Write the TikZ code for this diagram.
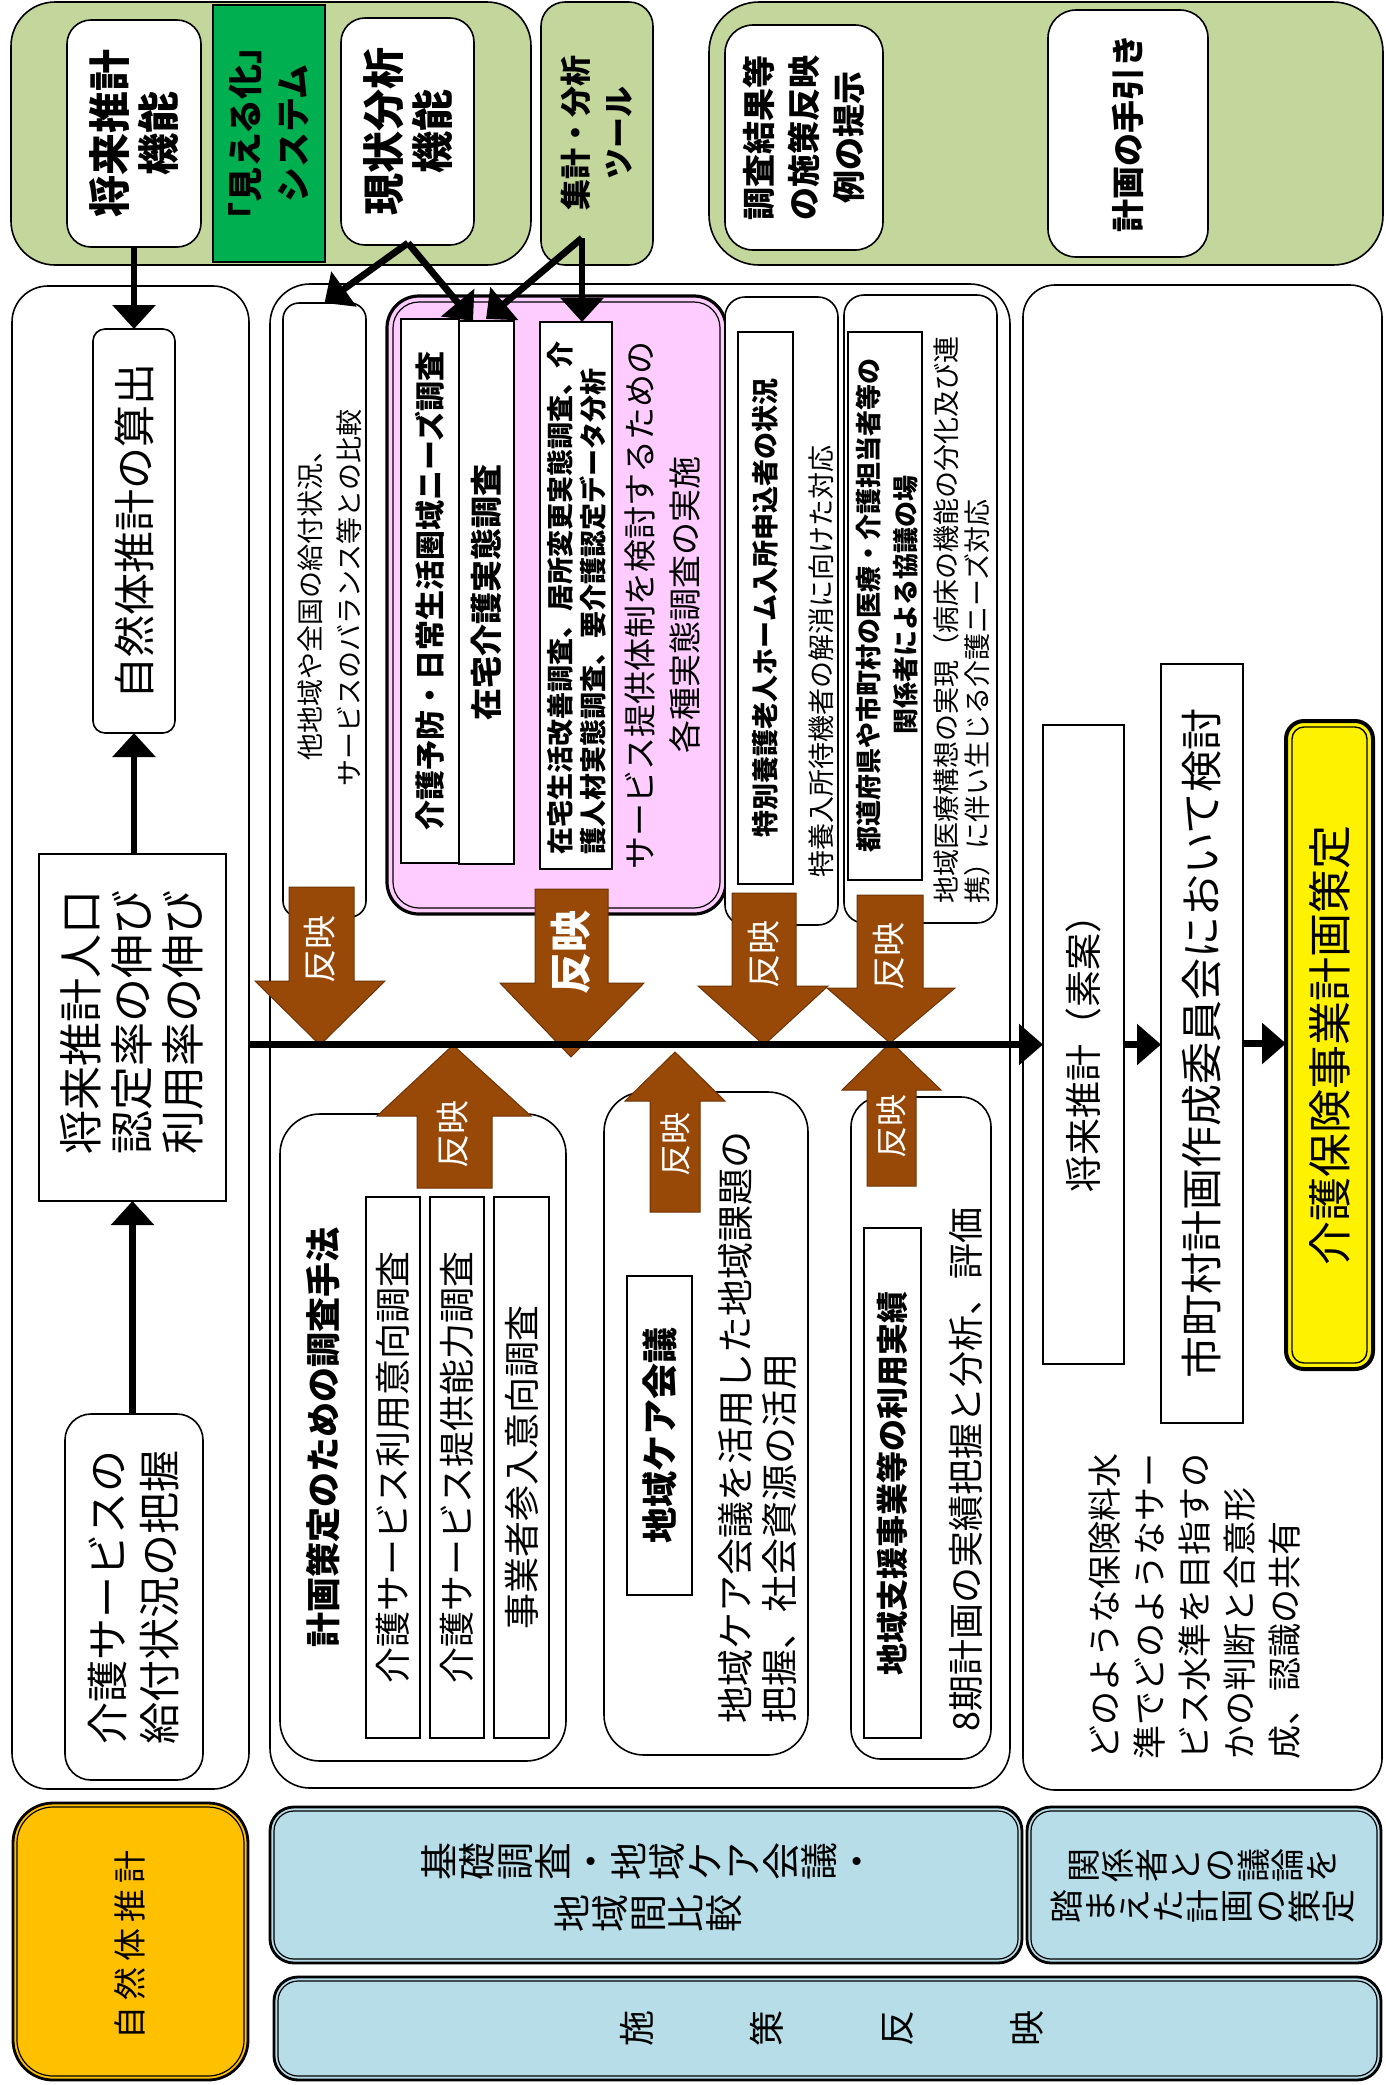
\documentclass[tikz,border=0pt]{standalone}
\usepackage{fontspec}
\setmainfont{Noto Sans CJK JP}
\usepackage{graphicx}
\usetikzlibrary{arrows.meta,calc}
\definecolor{lgreen}{HTML}{C3D69B}
\definecolor{dgreen}{HTML}{00B050}
\definecolor{pinkf}{HTML}{FFCCFF}
\definecolor{lblue}{HTML}{B7DEE8}
\definecolor{orangef}{HTML}{FFC000}
\definecolor{brownf}{HTML}{984807}
\definecolor{brownd}{HTML}{6E3305}
\newcommand\Fs[2]{\fontsize{#1pt}{#2pt}\selectfont}
\newcommand\Bx[6][]{\node[#1, inner sep=0pt, outer sep=0pt, minimum width={(#5-#3)*0.5pt}, minimum height={(#6-#4)*0.5pt}] (#2) at ({(#3+#5)/2},{(#4+#6)/2}) {};}
\newcommand\Inner[3]{\draw[#3] ($(#1.south west)+(#2,-#2)$) rectangle ($(#1.north east)+(-#2,#2)$);}
\makeatletter
\newcommand\tate[1]{\tate@loop#1\relax}
\def\tate@loop#1{\ifx\relax#1\else\rotatebox[origin=c]{90}{\makebox[1em]{\rule[-0.12em]{0pt}{1em}#1}}\expandafter\tate@loop\fi}
\makeatother
\begin{document}
\begin{tikzpicture}[x=0.5pt,y=-0.5pt,
  bx/.style={draw=black, line width=0.8pt, fill=white},
  tx/.style={rotate=90, inner sep=0pt, align=center, text=black},
  arr/.style={line width=3.4pt, -{Triangle[width=21pt,length=12pt]}},
  marr/.style={line width=3.5pt, -{Triangle[width=20pt,length=12pt]}},
  refl/.style={fill=brownf, draw=brownd, line width=0.5pt},
  rtx/.style={tx, text=white, font=\Fs{17}{18}}]
\useasboundingbox (0,0) rectangle (1386,2085);
% ---------- top row ----------
\Bx[bx, fill=lgreen, rounded corners=22pt]{A}{11}{2}{531}{265}
\Bx[bx, rounded corners=12pt]{shorai}{67}{20}{201}{247}
\Bx[bx, fill=dgreen, line width=0.6pt]{mieru}{213}{5}{325}{262}
\Bx[bx, rounded corners=12pt]{genjo}{341}{18}{474}{245}
\Bx[bx, fill=lgreen, rounded corners=12pt]{shukei}{541}{2}{653}{265}
\Bx[bx, fill=lgreen, rounded corners=25pt]{Bg}{709}{2}{1383}{265}
\Bx[bx, rounded corners=14pt]{chosa}{725}{25}{883}{250}
\Bx[bx, rounded corners=14pt]{tebiki}{1048}{10}{1208}{257}
\node[tx, font=\Fs{21}{24.5}\bfseries] (shorai-t) at (shorai) {将来推計\\機能};
\node[tx, font=\Fs{17.5}{24}\bfseries] (mieru-t) at (mieru) {「見える化」\\システム};
\node[tx, font=\Fs{21}{24.5}\bfseries] (genjo-t) at (genjo) {現状分析\\機能};
\node[tx, font=\Fs{15.5}{21.5}\bfseries] (shukei-t) at (597,133) {集計・分析\\ツール};
\node[tx, font=\Fs{16.5}{22.5}\bfseries] (chosa-t) at (chosa) {調査結果等\\の施策反映\\例の提示};
\node[tx, font=\Fs{16.5}{20}\bfseries] (tebiki-t) at (tebiki) {計画の手引き};
% ---------- containers ----------
\Bx[bx, rounded corners=18pt]{L}{12}{286}{249}{1789}
\Bx[bx, rounded corners=20pt]{M}{270}{284}{1010}{1788}
\Bx[bx, rounded corners=16pt]{R}{1023}{285}{1382}{1790}
% ---------- left ----------
\Bx[bx, rounded corners=6pt]{shizen}{93}{329}{175}{733}
\Bx[bx]{jinko}{39}{854}{226}{1201}
\Bx[bx, rounded corners=13pt]{kyufu}{65}{1414}{203}{1780}
\node[tx, font=\Fs{21}{25}] (shizen-t) at (shizen) {自然体推計の算出};
\node[tx, align=left, font=\Fs{22}{25.5}] (jinko-t) at (132,1022) {将来推計人口\\認定率の伸び\\利用率の伸び};
\node[tx, align=left, font=\Fs{21}{26}] (kyufu-t) at (kyufu) {介護サービスの\\給付状況の把握};
% ---------- middle upper ----------
\Bx[bx, rounded corners=8pt]{tachi}{283}{303}{366}{917}
\node[tx, font=\Fs{13.5}{19.5}] (tachi-t) at (330,598) {他地域や全国の給付状況、\\サービスのバランス等との比較};
\Bx[draw=black, line width=1.6pt, fill=pinkf, rounded corners=16pt]{pink}{387}{296}{726}{914}
\Inner{pink}{6}{line width=0.6pt, rounded corners=13pt}
\Bx[bx, line width=1pt]{yobo}{401}{319}{459}{863}
\Bx[bx, line width=1pt]{zaitaku}{459}{321}{514}{864}
\Bx[bx, line width=1pt]{zseik}{540}{322}{612}{869}
\node[tx, font=\Fs{15}{18}\bfseries] (yobo-t) at (yobo) {介護予防・日常生活圏域ニーズ調査};
\node[tx, font=\Fs{16}{18}\bfseries] (zaitaku-t) at (zaitaku) {在宅介護実態調査};
\node[tx, align=left, font=\Fs{13.5}{16.5}\bfseries] (zseik-t) at (577,598) {在宅生活改善調査、居所変更実態調査、介\\護人材実態調査、要介護認定データ分析};
\node[tx, font=\Fs{16.5}{22.5}] (pink-t) at (663,605) {サービス提供体制を検討するための\\各種実態調査の実施};
\Bx[bx, rounded corners=10pt]{tokuyo}{725}{297}{838}{925}
\Bx[bx, line width=1pt]{tokuyoin}{738}{332}{793}{884}
\node[tx, font=\Fs{13.5}{16}\bfseries] (tokuyoin-t) at (tokuyoin) {特別養護老人ホーム入所申込者の状況};
\node[tx, anchor=west, font=\Fs{13.5}{16}] (tokuyo-t) at (821,878) {特養入所待機者の解消に向けた対応};
\Bx[bx, rounded corners=10pt]{todo}{844}{295}{997}{923}
\Bx[bx, line width=1pt]{todoin}{848}{332}{922}{880}
\node[tx, font=\Fs{13}{18.5}\bfseries] (todoin-t) at (887,605) {都道府県や市町村の医療・介護担当者等の\\関係者による協議の場};
\node[tx, anchor=west, align=left, font=\Fs{13.5}{15.5}] (todo-t) at (962,904) {地域医療構想の実現（病床の機能の分化及び連\\携）に伴い生じる介護ニーズ対応};
% ---------- middle lower ----------
\Bx[bx, rounded corners=20pt]{keik}{280}{1114}{566}{1761}
\node[tx, font=\Fs{17.5}{20}\bfseries] (keik-t) at (323,1437) {計画策定のための調査手法};
\Bx[bx, line width=1pt]{ra}{366}{1197}{420}{1738}
\Bx[bx, line width=1pt]{rb}{430}{1197}{484}{1738}
\Bx[bx, line width=1pt]{rc}{494}{1197}{549}{1738}
\node[tx, font=\Fs{18}{20}] (ra-t) at (ra) {介護サービス利用意向調査};
\node[tx, font=\Fs{18}{20}] (rb-t) at (rb) {介護サービス提供能力調査};
\node[tx, font=\Fs{18}{20}] (rc-t) at (rc) {事業者参入意向調査};
\Bx[bx, rounded corners=20pt]{chiiki}{604}{1092}{808}{1755}
\Bx[bx, line width=1pt]{chiikiin}{627}{1276}{692}{1595}
\node[tx, font=\Fs{18}{20}\bfseries] (chiikiin-t) at (chiikiin) {地域ケア会議};
\node[tx, anchor=west, align=left, font=\Fs{18.5}{22}] (chiiki-t) at (757,1724) {地域ケア会議を活用した地域課題の\\把握、社会資源の活用};
\Bx[bx, rounded corners=15pt]{shien}{851}{1097}{991}{1759}
\Bx[bx, line width=1pt]{shienin}{864}{1228}{921}{1738}
\node[tx, font=\Fs{16}{18}\bfseries] (shienin-t) at (shienin) {地域支援事業等の利用実績};
\node[tx, anchor=west, font=\Fs{18}{20}] (shien-t) at (966,1732) {8期計画の実績把握と分析、評価};
% ---------- right ----------
\Bx[bx, line width=1.2pt]{soan}{1043}{725}{1124}{1364}
\node[tx, font=\Fs{18.5}{20}] (soan-t) at (soan) {将来推計（素案）};
\Bx[bx, line width=1.2pt]{iinkai}{1161}{664}{1243}{1423}
\node[tx, font=\Fs{21}{23}] (iinkai-t) at (iinkai) {市町村計画作成委員会において検討};
\Bx[draw=black, line width=2pt, fill=yellow, rounded corners=9pt]{sakutei}{1286}{721}{1373}{1369}
\Inner{sakutei}{6}{line width=0.7pt, rounded corners=6pt}
\node[tx, font=\Fs{22}{24}] (sakutei-t) at (sakutei) {介護保険事業計画策定};
\node[tx, anchor=west, align=left, font=\Fs{17}{22.5}] (hoken-t) at (1195,1760) {どのような保険料水\\準でどのようなサー\\ビス水準を目指すの\\かの判断と合意形\\成、認識の共有};
% ---------- bottom ----------
\Bx[draw=black, line width=1.4pt, fill=orangef, rounded corners=20pt]{orange}{13}{1803}{248}{2080}
\Inner{orange}{4}{line width=0.6pt, rounded corners=18pt}
\node[tx, font=\Fs{16.5}{20}] (orange-t) at (130,1945) {自\hspace{3pt}然\hspace{3pt}体\hspace{3pt}推\hspace{3pt}計};
\Bx[draw=black, line width=1.4pt, fill=lblue, rounded corners=12pt]{kiso}{270}{1807}{1022}{1963}
\Inner{kiso}{4}{line width=0.6pt, rounded corners=10pt}
\node[inner sep=0pt, align=center, font=\Fs{19}{26}] (kiso-t) at (648,1887) {\tate{基礎調査・地域ケア会議・}\\\tate{地域間比較}};
\Bx[draw=black, line width=1.4pt, fill=lblue, rounded corners=12pt]{kankei}{1027}{1807}{1381}{1963}
\Inner{kankei}{4}{line width=0.6pt, rounded corners=10pt}
\node[inner sep=0pt, align=center, font=\Fs{17}{20.5}] (kankei-t) at (1203,1886) {\tate{関係者との議論を}\\\tate{踏まえた計画の策定}};
\Bx[draw=black, line width=1.4pt, fill=lblue, rounded corners=12pt]{shisaku}{274}{1977}{1381}{2080}
\Inner{shisaku}{4}{line width=0.6pt, rounded corners=10pt}
\node[inner sep=0pt, font=\Fs{18}{20}] (shisaku-t) at (832,2028) {\tate{施}\hspace{47pt}\tate{策}\hspace{47pt}\tate{反}\hspace{47pt}\tate{映}};
% ---------- brown arrows ----------
\draw[refl] (289,887) -- (354,887) -- (354,981) -- (385,981) -- (320,1045) -- (255,981) -- (289,981) -- cycle;
\node[rtx] (ha1) at (320,949) {反映};
\draw[refl] (535,889) -- (608,889) -- (608,983) -- (644,983) -- (571,1057) -- (500,983) -- (535,983) -- cycle;
\node[rtx, font=\Fs{21}{22}\bfseries] (ha2) at (571,952) {反映};
\draw[refl] (732,893) -- (796,893) -- (796,986) -- (828,986) -- (764,1045) -- (698,986) -- (732,986) -- cycle;
\node[rtx] (ha3) at (764,954) {反映};
\draw[refl] (857,895) -- (923,895) -- (923,988) -- (955,988) -- (890,1043) -- (827,988) -- (857,988) -- cycle;
\node[rtx] (ha4) at (889,956) {反映};
\draw[refl] (417,1188) -- (492,1188) -- (492,1116) -- (531,1116) -- (453,1045) -- (377,1116) -- (417,1116) -- cycle;
\node[rtx] (ha5) at (453,1134) {反映};
\draw[refl] (650,1212) -- (700,1212) -- (700,1101) -- (725,1101) -- (675,1052) -- (625,1101) -- (650,1101) -- cycle;
\node[rtx, font=\Fs{16}{18}] (ha6) at (675,1144) {反映};
\draw[refl] (867,1186) -- (916,1186) -- (916,1090) -- (941,1090) -- (891,1042) -- (842,1090) -- (867,1090) -- cycle;
\node[rtx, font=\Fs{16}{18}] (ha7) at (891,1126) {反映};
% ---------- black arrows ----------
\draw[arr] (shorai.south) -- (shizen.north);
\draw[arr] (shizen.south |- jinko.north) -- (shizen.south);
\draw[arr] (jinko.south |- kyufu.north) -- (jinko.south);
\coordinate (g0) at (408,243);
\coordinate (g2) at (473,321);
\coordinate (s0) at (582,238);
\coordinate (s1) at (486,319);
\draw[arr] (g0) -- (tachi.north);
\draw[arr] (g0) -- (g2);
\draw[arr] (s0) -- (s1);
\draw[arr] (s0) -- (s0 |- zseik.north);
\draw[marr] (L.east |- soan.west) -- (soan.west);
\draw[marr] (soan.east) -- (iinkai.west |- soan.east);
\draw[marr] (iinkai.east) -- (sakutei.west |- iinkai.east);
\end{tikzpicture}
\end{document}
